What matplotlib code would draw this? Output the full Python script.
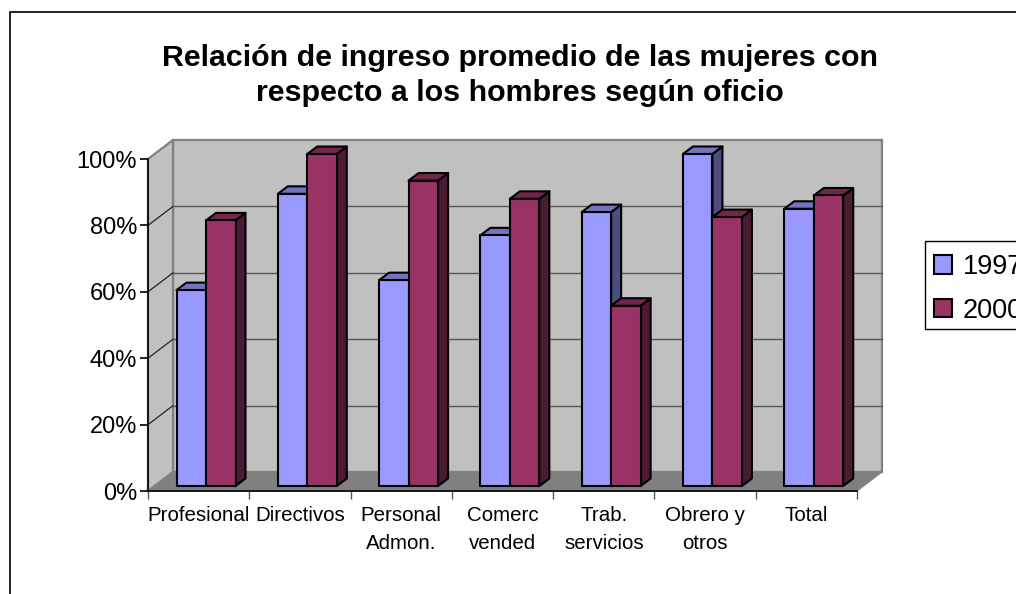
from matplotlib import pyplot as plt
from matplotlib.patches import Patch, Rectangle
from matplotlib.ticker import FuncFormatter

plt.rcParams['font.family'] = ['Liberation Sans', 'DejaVu Sans']

categorias = ['Profesional', 'Directivos', 'Personal\nAdmon.', 'Comerc\nvended',
              'Trab.\nservicios', 'Obrero y\notros', 'Total']
valores_1997 = [59, 88, 62, 75.5, 82.5, 100, 83.5]
valores_2000 = [80, 100, 92, 86.5, 54.3, 81, 87.5]
series = ['1997', '2000']
marcas_y = [0, 20, 40, 60, 80, 100]

W, H = 1016, 594
fig = plt.figure(figsize=(W / 100, H / 100), dpi=100)

# el eje cubre el plano frontal del grafico 3D
ax = fig.add_axes([148 / W, 1 - 491 / H, 709 / W, 332 / H])
n = len(categorias)
ax.set_xlim(0, n)
ax.set_ylim(0, 100)

# pixeles a unidades de datos, para la profundidad oblicua
ux = 709 / n
uy = 332 / 100
fondo_x, fondo_y = 25 / ux, 19 / uy

# paredes y piso
gris = '#808080'
ax.fill([fondo_x, n + fondo_x, n + fondo_x, fondo_x],
        [fondo_y, fondo_y, 100 + fondo_y, 100 + fondo_y],
        fc='#C0C0C0', ec=gris, lw=1.6, clip_on=False, zorder=1)
ax.fill([0, fondo_x, fondo_x, 0], [0, fondo_y, 100 + fondo_y, 100],
        fc='#C0C0C0', ec=gris, lw=1.6, clip_on=False, zorder=1)
ax.fill([0, n, n + fondo_x, fondo_x], [0, 0, fondo_y, fondo_y],
        fc=gris, ec=gris, lw=0.8, clip_on=False, zorder=1)

for v in marcas_y[1:-1]:
    ax.plot([0, fondo_x], [v, v + fondo_y], color='#222222', lw=0.9, clip_on=False, zorder=2)
    ax.plot([fondo_x, n + fondo_x], [v + fondo_y, v + fondo_y], color='#555555', lw=1.0,
            clip_on=False, zorder=2)


def barra(x0, ancho, valor, frente, arriba, lado):
    base = 5 / uy
    dx, dy = 10 / ux, 7.5 / uy
    kw = dict(ec='black', lw=1.5, clip_on=False, zorder=3, joinstyle='round')
    ax.fill([x0 + ancho, x0 + ancho + dx, x0 + ancho + dx, x0 + ancho],
            [base, base + dy, base + valor + dy, base + valor], fc=lado, **kw)
    ax.fill([x0, x0 + dx, x0 + ancho + dx, x0 + ancho],
            [base + valor, base + valor + dy, base + valor + dy, base + valor], fc=arriba, **kw)
    ax.fill([x0, x0 + ancho, x0 + ancho, x0], [base, base, base + valor, base + valor],
            fc=frente, **kw)


margen = 28.5 / ux
ancho = 29.5 / ux
for i in range(n):
    barra(i + margen, ancho, valores_1997[i], '#9999FF', '#7373BF', '#4D4D80')
    barra(i + margen + ancho, ancho, valores_2000[i], '#993366', '#732649', '#4D1A33')

# ejes
for lado in ['top', 'right']:
    ax.spines[lado].set_visible(False)
ax.patch.set_visible(False)
ax.spines['left'].set_linewidth(1.2)
ax.spines['bottom'].set_linewidth(1.2)
ax.spines['left'].set_zorder(4)
ax.spines['bottom'].set_zorder(4)

ax.set_yticks(marcas_y)
ax.yaxis.set_major_formatter(FuncFormatter(lambda v, p: f'{v:.0f}%'))
ax.tick_params(axis='y', labelsize=17, length=6, width=1.2, pad=2)
ax.set_xticks(range(n + 1))
ax.set_xticklabels([])
ax.set_xticks([i + 0.5 for i in range(n)], minor=True)
ax.set_xticklabels(categorias, minor=True, fontsize=14.8, linespacing=1.55)
ax.tick_params(axis='x', which='major', length=6, width=1, color='#555555')
ax.tick_params(axis='x', which='minor', length=0, pad=11)

fig.text(520 / W, 1 - 75.5 / H, 'Relación de ingreso promedio de las mujeres con\nrespecto a los hombres según oficio',
         ha='center', va='center', fontsize=21.9, fontweight='bold', linespacing=1.36)

# leyenda, cortada por el borde derecho como en el original
fig.add_artist(Rectangle((925 / W, 1 - 329 / H), 120 / W, 88 / H, transform=fig.transFigure,
                         fc='white', ec='black', lw=1))
manejadores = [Patch(fc='#9999FF', ec='black', lw=1.5, label=series[0]),
               Patch(fc='#993366', ec='black', lw=1.5, label=series[1])]
leg = fig.legend(handles=manejadores, loc='upper left',
                 bbox_to_anchor=(934 / W, 1 - 254 / H), borderaxespad=0,
                 fontsize=19.5, frameon=False,
                 handlelength=0.68, handleheight=0.68, handletextpad=0.38,
                 borderpad=0, labelspacing=0.65)

# marco exterior, tambien cortado por la figura
fig.add_artist(Rectangle((10 / W, 1 - 640 / H), 1100 / W, 628 / H, transform=fig.transFigure,
                         fc='none', ec='black', lw=1.2))

fig.savefig('out.png', dpi=100)
